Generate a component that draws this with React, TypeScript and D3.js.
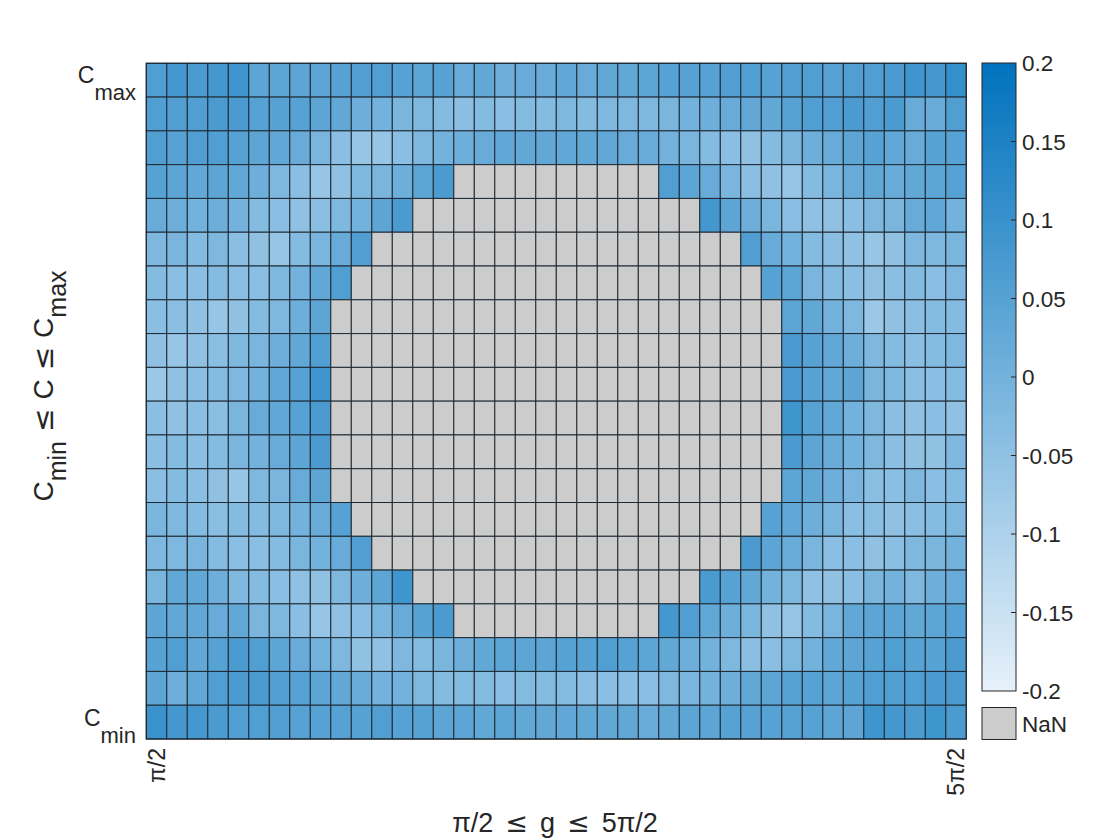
import React from "react";
import * as d3 from "d3";

const N = NaN;

// rows from top (C_max) to bottom (C_min), 40 columns each (π/2 … 5π/2)
const row00 = [0.06,0.08,0.07,0.08,0.09,0.04,0.04,0.04,0.04,0.05,0.06,0.06,0.05,0.04,0.05,0.02,0.03,0.01,0.02,0.02,0.03,0.02,0.03,0.03,0.04,0.05,0.05,0.05,0.06,0.06,0.05,0.06,0.06,0.05,0.06,0.06,0.07,0.09,0.08,0.11];
const row01 = [0.06,0.06,0.06,0.07,0.07,0.05,0.05,0.05,0.04,0.03,0.01,0.00,-0.01,-0.02,-0.03,-0.04,-0.03,-0.04,-0.03,-0.03,-0.02,-0.03,-0.02,-0.02,-0.02,-0.01,0.00,0.01,0.02,0.03,0.03,0.05,0.06,0.06,0.07,0.06,0.07,0.02,0.02,0.06];
const row02 = [0.06,0.05,0.06,0.06,0.05,0.04,0.03,0.02,-0.01,-0.04,-0.06,-0.06,-0.04,-0.02,0.00,0.01,0.02,0.03,0.03,0.03,0.03,0.03,0.03,0.02,0.02,0.00,-0.01,-0.03,-0.04,-0.05,-0.03,-0.01,0.01,0.02,0.04,0.05,0.03,0.02,0.05,0.05];
const row03 = [0.05,0.04,0.03,0.04,0.03,0.01,-0.02,-0.04,-0.06,-0.05,-0.02,-0.01,0.01,0.04,0.07,N,N,N,N,N,N,N,N,N,N,0.06,0.04,0.02,-0.01,-0.04,-0.05,-0.06,-0.03,-0.01,0.02,0.03,0.02,0.03,0.04,0.05];
const row04 = [0.02,0.01,0.00,0.01,0.00,-0.03,-0.04,-0.05,-0.04,-0.02,0.00,0.04,0.07,N,N,N,N,N,N,N,N,N,N,N,N,N,N,0.08,0.04,0.01,-0.01,-0.04,-0.05,-0.05,-0.04,-0.02,-0.01,0.02,0.03,0.00];
const row05 = [-0.02,-0.01,-0.03,-0.02,-0.04,-0.05,-0.06,-0.03,-0.01,0.02,0.06,N,N,N,N,N,N,N,N,N,N,N,N,N,N,N,N,N,N,0.06,0.02,0.00,-0.03,-0.04,-0.05,-0.06,-0.05,-0.02,-0.02,-0.01];
const row06 = [-0.03,-0.04,-0.04,-0.03,-0.04,-0.04,-0.02,0.00,0.03,0.06,N,N,N,N,N,N,N,N,N,N,N,N,N,N,N,N,N,N,N,N,0.05,0.04,-0.01,-0.03,-0.04,-0.05,-0.04,-0.03,-0.04,-0.02];
const row07 = [-0.04,-0.04,-0.05,-0.06,-0.05,-0.03,-0.02,0.01,0.04,N,N,N,N,N,N,N,N,N,N,N,N,N,N,N,N,N,N,N,N,N,N,0.04,0.03,0.00,-0.02,-0.07,-0.05,-0.04,-0.03,-0.03];
const row08 = [-0.05,-0.06,-0.05,-0.04,-0.02,-0.01,0.01,0.03,0.06,N,N,N,N,N,N,N,N,N,N,N,N,N,N,N,N,N,N,N,N,N,N,0.07,0.05,0.03,0.01,-0.02,-0.03,-0.04,-0.03,-0.02];
const row09 = [-0.07,-0.05,-0.04,-0.03,-0.02,0.00,0.03,0.05,0.09,N,N,N,N,N,N,N,N,N,N,N,N,N,N,N,N,N,N,N,N,N,N,0.07,0.05,0.03,0.04,-0.01,-0.02,-0.04,-0.04,-0.03];
const row10 = [-0.04,-0.05,-0.04,-0.04,-0.01,0.02,0.03,0.05,0.07,N,N,N,N,N,N,N,N,N,N,N,N,N,N,N,N,N,N,N,N,N,N,0.09,0.05,0.03,0.00,-0.02,-0.04,-0.05,-0.04,-0.05];
const row11 = [-0.04,-0.03,-0.04,-0.03,-0.01,0.00,0.02,0.04,0.07,N,N,N,N,N,N,N,N,N,N,N,N,N,N,N,N,N,N,N,N,N,N,0.07,0.04,0.02,0.00,-0.02,-0.04,-0.05,-0.05,-0.02];
const row12 = [-0.04,-0.03,-0.04,-0.05,-0.06,-0.02,-0.01,0.02,0.04,N,N,N,N,N,N,N,N,N,N,N,N,N,N,N,N,N,N,N,N,N,N,0.04,0.03,0.01,-0.01,-0.04,-0.04,-0.02,-0.04,-0.03];
const row13 = [-0.01,-0.02,-0.03,-0.04,-0.03,-0.03,-0.02,0.00,0.02,0.05,N,N,N,N,N,N,N,N,N,N,N,N,N,N,N,N,N,N,N,N,0.05,0.03,0.01,-0.01,-0.04,-0.04,-0.05,-0.04,-0.03,-0.02];
const row14 = [-0.02,-0.02,-0.01,-0.03,-0.04,-0.04,-0.03,-0.01,0.00,0.02,0.06,N,N,N,N,N,N,N,N,N,N,N,N,N,N,N,N,N,N,0.07,0.04,0.02,-0.01,-0.04,-0.04,-0.05,-0.04,-0.02,-0.01,0.00];
const row15 = [-0.01,0.03,0.03,0.01,-0.02,-0.03,-0.04,-0.05,-0.05,-0.02,0.01,0.04,0.09,N,N,N,N,N,N,N,N,N,N,N,N,N,N,0.07,0.05,0.03,0.00,-0.02,-0.05,-0.05,-0.04,-0.01,0.00,-0.02,0.01,0.02];
const row16 = [0.04,0.03,0.03,0.02,0.03,-0.01,-0.02,-0.04,-0.06,-0.05,-0.04,-0.01,0.02,0.05,0.07,N,N,N,N,N,N,N,N,N,N,0.08,0.06,0.03,0.01,-0.01,-0.05,-0.06,-0.03,-0.01,0.03,0.04,0.04,0.03,0.04,0.05];
const row17 = [0.05,0.06,0.03,0.05,0.07,0.06,0.04,0.02,0.00,-0.02,-0.05,-0.05,-0.02,-0.03,-0.01,0.01,0.03,0.04,0.04,0.04,0.05,0.05,0.06,0.05,0.04,0.03,0.01,0.00,-0.02,-0.04,-0.04,-0.02,0.00,0.03,0.04,0.05,0.06,0.05,0.05,0.07];
const row18 = [0.04,0.01,0.03,0.06,0.07,0.07,0.06,0.05,0.04,0.03,0.02,0.00,0.00,-0.02,-0.03,-0.03,-0.03,-0.04,-0.03,-0.03,-0.03,-0.04,-0.04,-0.04,-0.04,-0.02,-0.01,0.00,0.01,0.03,0.04,0.05,0.05,0.04,0.05,0.06,0.06,0.06,0.07,0.07];
const row19 = [0.10,0.08,0.08,0.07,0.06,0.06,0.06,0.05,0.05,0.05,0.05,0.06,0.05,0.05,0.04,0.04,0.03,0.04,0.03,0.03,0.03,0.03,0.03,0.03,0.02,0.03,0.04,0.04,0.05,0.05,0.05,0.05,0.05,0.04,0.04,0.09,0.08,0.07,0.09,0.07];

const rows = [row00,row01,row02,row03,row04,row05,row06,row07,row08,row09,row10,row11,row12,row13,row14,row15,row16,row17,row18,row19];

const colorDomain = [-0.2, 0.2];
const colorTicks = [0.2, 0.15, 0.1, 0.05, 0, -0.05, -0.1, -0.15, -0.2];
const colorTickLabels = ["0.2", "0.15", "0.1", "0.05", "0", "-0.05", "-0.1", "-0.15", "-0.2"];
const xTickLabels = ["π/2", "5π/2"];

const W = 1120, H = 840;
const plot = { left: 146.3, right: 966.3, top: 63.3, bottom: 739 };
const cbar = { left: 982, right: 1016, top: 63, bottom: 691, nanTop: 707.5, nanBottom: 739.5 };
const FONT = "'Liberation Sans', Arial, Helvetica, sans-serif";
const SYM = "'DejaVu Sans', sans-serif";
const TXT = "#262626";

export default function App() {
  const nCols = rows[0].length;
  const nRows = rows.length;
  const x = d3.scaleBand<number>().domain(d3.range(nCols)).range([plot.left, plot.right]);
  const y = d3.scaleBand<number>().domain(d3.range(nRows)).range([plot.top, plot.bottom]);
  const color = d3.scaleLinear<string>().domain(colorDomain).range(["#e6f1fa", "#0072bd"]).interpolate(d3.interpolateRgb).clamp(true);
  const cy = d3.scaleLinear().domain(colorDomain).range([cbar.bottom, cbar.top]);

  const cells: any[] = [];
  rows.forEach((r, i) => {
    r.forEach((v, j) => {
      cells.push(
        <rect key={`${i}-${j}`} x={x(j)} y={y(i)} width={x.bandwidth()} height={y.bandwidth()}
          fill={Number.isNaN(v) ? "#cccccc" : color(v)} stroke="#1f2a33" strokeWidth={1} />
      );
    });
  });

  const stops = d3.range(0, 1.0001, 0.1).map((t) => ({ t, c: color(colorDomain[0] + t * (colorDomain[1] - colorDomain[0])) }));
  const yMid0 = y(0)! + y.bandwidth() / 2;
  const yMidN = y(nRows - 1)! + y.bandwidth() / 2;

  return (
    <svg width={W} height={H} style={{ position: "absolute", left: 0, top: 0, background: "#fff" }} fontFamily={FONT}>
      <defs>
        <linearGradient id="cbg" x1="0" y1="1" x2="0" y2="0">
          {stops.map((s) => <stop key={s.t} offset={s.t} stopColor={s.c} />)}
        </linearGradient>
      </defs>
      <rect x={0} y={0} width={W} height={H} fill="#fff" />
      {cells}
      <rect x={plot.left} y={plot.top} width={plot.right - plot.left} height={plot.bottom - plot.top} fill="none" stroke="#1f2a33" strokeWidth={1.2} />

      {/* y tick labels */}
      <text x={136} y={yMid0 + 3} textAnchor="end" fontSize={23} fill={TXT}>
        C<tspan fontSize={22} dy={17}>max</tspan>
      </text>
      <text x={136} y={yMidN + 4} textAnchor="end" fontSize={23} fill={TXT}>
        C<tspan fontSize={22} dy={17}>min</tspan>
      </text>

      {/* x tick labels */}
      <text transform={`translate(${x(0)! + x.bandwidth() / 2 + 8},748) rotate(-90)`} textAnchor="end" fontSize={23} fill={TXT}>{xTickLabels[0]}</text>
      <text transform={`translate(${x(nCols - 1)! + x.bandwidth() / 2 + 8},748) rotate(-90)`} textAnchor="end" fontSize={23} fill={TXT}>{xTickLabels[1]}</text>

      {/* axis labels */}
      <text x={555} y={832} textAnchor="middle" fontSize={27} fill={TXT}>
        π/2<tspan dx={12} fontFamily={SYM}>≤</tspan><tspan dx={12}>g</tspan><tspan dx={12} fontFamily={SYM}>≤</tspan><tspan dx={12}>5π/2</tspan>
      </text>
      <text transform={`translate(53,386) rotate(-90)`} textAnchor="middle" fontSize={28} fill={TXT}>
        C<tspan fontSize={25} dy={13}>min</tspan><tspan dy={-13} dx={9} fontFamily={SYM}>≤</tspan><tspan dx={9}>C</tspan><tspan dx={9} fontFamily={SYM}>≤</tspan><tspan dx={9}>C</tspan><tspan fontSize={25} dy={13}>max</tspan>
      </text>

      {/* colorbar */}
      <rect x={cbar.left} y={cbar.top} width={cbar.right - cbar.left} height={cbar.bottom - cbar.top} fill="url(#cbg)" stroke={TXT} strokeWidth={1} />
      {colorTicks.map((t, i) => (
        <g key={t}>
          {i > 0 && i < colorTicks.length - 1 && (
            <line x1={cbar.right - 5} x2={cbar.right} y1={cy(t)} y2={cy(t)} stroke={TXT} strokeWidth={1} />
          )}
          <text x={1022} y={cy(t) + 8} fontSize={22.5} fill={TXT}>{colorTickLabels[i]}</text>
        </g>
      ))}
      <rect x={cbar.left} y={cbar.nanTop} width={cbar.right - cbar.left} height={cbar.nanBottom - cbar.nanTop} fill="#cccccc" stroke={TXT} strokeWidth={1} />
      <text x={1022} y={(cbar.nanTop + cbar.nanBottom) / 2 + 8} fontSize={22.5} fill={TXT}>NaN</text>
    </svg>
  );
}
